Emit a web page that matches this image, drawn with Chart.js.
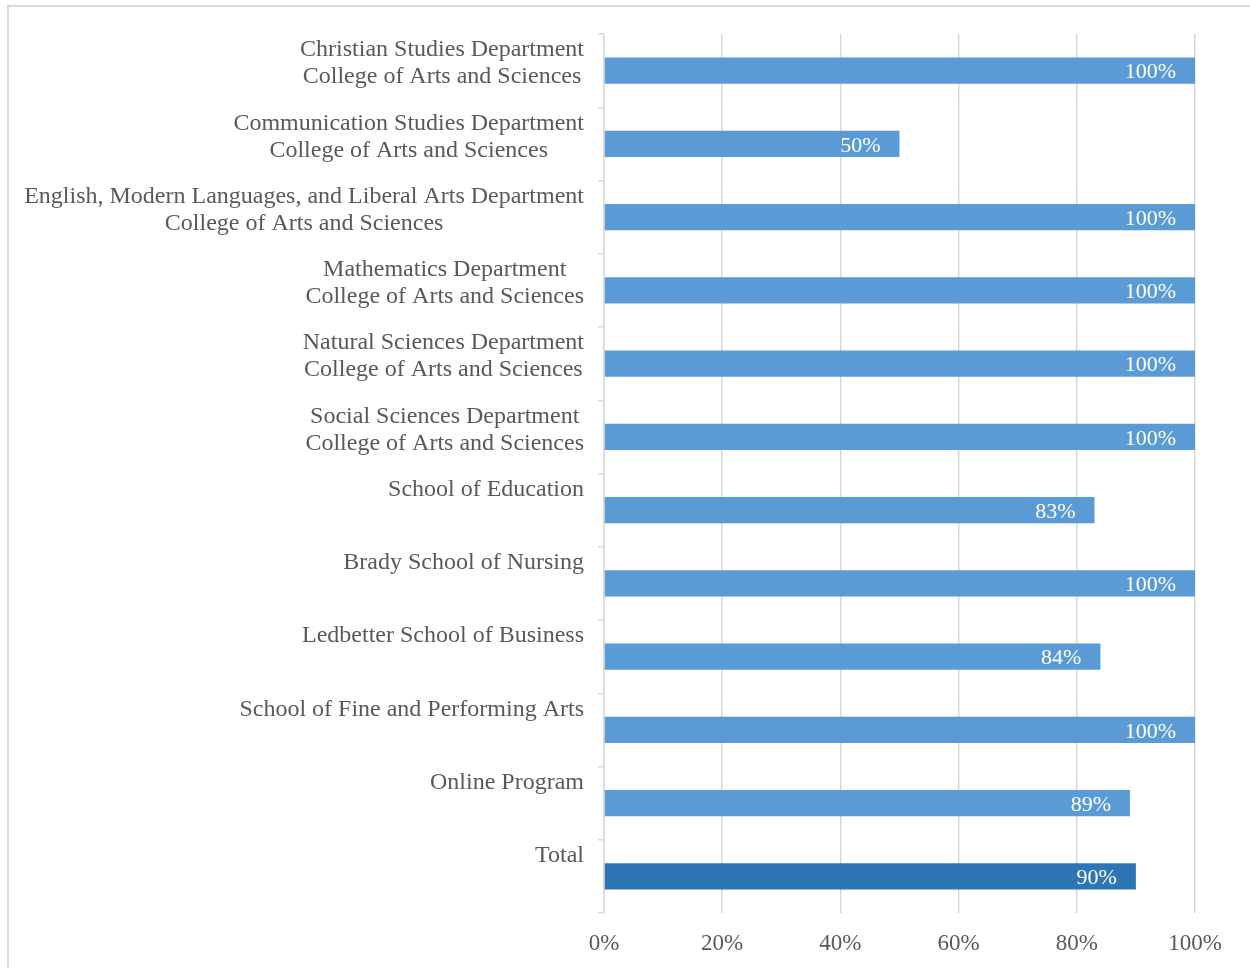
<!DOCTYPE html>
<html>
<head>
<meta charset="utf-8">
<script src="https://cdn.jsdelivr.net/npm/chart.js@4"></script>
<style>
  html, body { margin: 0; padding: 0; background: #fff; overflow: hidden; }
  #frame { position: absolute; left: 7px; top: 5px; width: 1300px; height: 1000px;
           border-left: 2px solid #d9d9d9; border-top: 2px solid #d9d9d9; }
  #wrap { position: absolute; left: 0; top: 0; width: 1250px; height: 968px; }
</style>
</head>
<body>
<div id="frame"></div>
<div id="wrap"><canvas id="chart"></canvas></div>
<script>
// Categories (multi-line labels) and completion percentages
const categories = [
    ['Christian Studies Department', 'College of Arts and Sciences'],
    ['Communication Studies Department', 'College of Arts and Sciences'],
    ['English, Modern Languages, and Liberal Arts Department', 'College of Arts and Sciences'],
    ['Mathematics Department', 'College of Arts and Sciences'],
    ['Natural Sciences Department', 'College of Arts and Sciences'],
    ['Social Sciences Department', 'College of Arts and Sciences'],
    ['School of Education'],
    ['Brady School of Nursing'],
    ['Ledbetter School of Business'],
    ['School of Fine and Performing Arts'],
    ['Online Program'],
    ['Total']
];
const percentages = [100, 50, 100, 100, 100, 100, 83, 100, 84, 100, 89, 90];
const xTicks = [0, 20, 40, 60, 80, 100];

const FONT = "'Liberation Serif', 'Times New Roman', serif";
const TEXT_COLOR = '#595959';
const GRID_COLOR = '#d9d9d9';

// bar colours: last one (Total) darker
const barColors = percentages.map((v, i) => i === percentages.length - 1 ? '#2e75b6' : '#5b9bd5');

// Draw the category labels: block right aligned, lines centred inside the block
const categoryLabels = {
    id: 'categoryLabels',
    afterDraw(chart) {
        const ctx = chart.ctx;
        const yScale = chart.scales.y;
        const right = yScale.right - 20;
        ctx.save();
        ctx.font = '24px ' + FONT;
        ctx.fillStyle = TEXT_COLOR;
        ctx.textAlign = 'center';
        ctx.textBaseline = 'middle';
        chart.data.labels.forEach((lines, i) => {
            const cy = yScale.getPixelForTick(i);
            const blockW = Math.max(...lines.map(l => ctx.measureText(l).width));
            const cx = right - blockW / 2;
            lines.forEach((line, k) => {
                ctx.fillText(line, cx, cy - 20.5 + k * 27);
            });
        });
        ctx.restore();
    }
};

// Value labels inside the end of each bar
const valueLabels = {
    id: 'valueLabels',
    afterDatasetsDraw(chart) {
        const ctx = chart.ctx;
        const meta = chart.getDatasetMeta(0);
        ctx.save();
        ctx.font = '22px ' + FONT;
        ctx.fillStyle = '#ffffff';
        ctx.textAlign = 'right';
        ctx.textBaseline = 'middle';
        meta.data.forEach((bar, i) => {
            ctx.fillText(percentages[i] + '%', bar.x - 19, bar.y + 2);
        });
        ctx.restore();
    }
};

document.addEventListener('DOMContentLoaded', function() {
    const chartContext = document.getElementById('chart').getContext('2d');
    new Chart(chartContext, {
        type: 'bar',
        data: {
            labels: categories,
            datasets: [{
                data: percentages,
                backgroundColor: barColors,
                borderWidth: 0,
                categoryPercentage: 1,
                barPercentage: 0.355
            }]
        },
        options: {
            indexAxis: 'y',
            responsive: true,
            maintainAspectRatio: false,
            animation: false,
            layout: { padding: { left: 0, top: 34, right: 55, bottom: 0 } },
            scales: {
                x: {
                    min: 0,
                    max: 100,
                    afterBuildTicks(scale) {
                        scale.ticks = xTicks.map(v => ({ value: v }));
                    },
                    afterFit(scale) { scale.height = 968 - 913; },
                    grid: { color: GRID_COLOR, lineWidth: 1.5, drawTicks: false },
                    border: { display: false },
                    ticks: {
                        padding: 17,
                        color: TEXT_COLOR,
                        font: { family: FONT, size: 23 },
                        callback: v => v + '%'
                    }
                },
                y: {
                    afterFit(scale) { scale.width = 604; },
                    grid: { color: GRID_COLOR, lineWidth: 1.5, drawOnChartArea: false, tickLength: 6, offset: true },
                    border: { display: true, color: GRID_COLOR, width: 1.5 },
                    ticks: { display: false }
                }
            },
            plugins: {
                legend: { display: false },
                tooltip: { enabled: false }
            }
        },
        plugins: [categoryLabels, valueLabels]
    });
});
</script>
</body>
</html>
